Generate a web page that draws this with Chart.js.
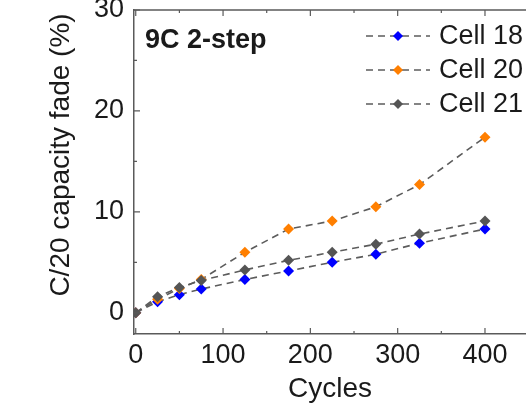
<!DOCTYPE html>
<html lang="en">
<head>
<meta charset="UTF-8">
<title>9C 2-step capacity fade</title>
<script src="https://cdn.jsdelivr.net/npm/chart.js"></script>
<style>
  html, body { margin: 0; padding: 0; background: #fff; overflow: hidden; }
  #wrap { position: absolute; left: 0; top: 0; width: 560px; height: 403px; }
</style>
</head>
<body>
<div id="wrap"><canvas id="fade" width="560" height="403"></canvas></div>
<script>
// data
const cycles = [0, 25, 50, 75, 125, 175, 225, 275, 325, 400];
const cell18 = [0, 1.1, 1.8, 2.35, 3.3, 4.15, 5.0, 5.8, 6.9, 8.3];
const cell20 = [0, 1.35, 2.4, 3.3, 6.0, 8.3, 9.1, 10.5, 12.7, 17.4];
const cell21 = [0, 1.6, 2.5, 3.2, 4.25, 5.2, 6.0, 6.8, 7.8, 9.1];
const seriesNames = ['Cell 18', 'Cell 20', 'Cell 21'];
const xTicks = [0, 100, 200, 300, 400];
const xMinor = [50, 150, 250, 350];
const yTicks = [0, 10, 20, 30];
const yMinor = [5, 15, 25];

const FONT = 'Liberation Sans, Arial, sans-serif';
const AXIS = '#5a5a5a';
const LINE = '#5c5c5c';
const DASH = [7, 5];
const colors = ['#0000ff', '#ff7f00', '#555555'];

const pts = vals => cycles.map((c, i) => ({ x: c, y: vals[i] }));

const mkSet = (name, vals, color, order) => ({
  label: name, data: pts(vals),
  borderColor: LINE, borderWidth: 1.6, borderDash: DASH,
  pointStyle: 'rectRot', pointRadius: 5.5, pointBorderWidth: 0,
  pointBackgroundColor: color, pointBorderColor: color,
  fill: false, tension: 0, order: order
});

// inward ticks, top edge, titles, legend
const decor = {
  id: 'decor',
  afterDraw(chart) {
    const { ctx, chartArea: a, scales: { x, y } } = chart;
    ctx.save();
    ctx.strokeStyle = AXIS;
    ctx.lineWidth = 1.5;
    ctx.beginPath();
    ctx.moveTo(a.left, a.top); ctx.lineTo(a.right, a.top);
    ctx.stroke();

    ctx.lineWidth = 1.2;
    ctx.beginPath();
    const xt = (v, len) => {
      const px = x.getPixelForValue(v);
      ctx.moveTo(px, a.bottom); ctx.lineTo(px, a.bottom - len);
      ctx.moveTo(px, a.top); ctx.lineTo(px, a.top + len);
    };
    const yt = (v, len) => {
      const py = y.getPixelForValue(v);
      ctx.moveTo(a.left, py); ctx.lineTo(a.left + len, py);
    };
    xTicks.forEach(v => xt(v, 6));
    xMinor.forEach(v => xt(v, 3));
    yTicks.forEach(v => yt(v, 6));
    yMinor.forEach(v => yt(v, 3));
    ctx.stroke();

    ctx.fillStyle = '#1a1a1a';
    ctx.font = 'bold 27px ' + FONT;
    ctx.textAlign = 'left';
    ctx.textBaseline = 'alphabetic';
    ctx.fillText('9C 2-step', 145, 48);

    ctx.font = '28px ' + FONT;
    ctx.textAlign = 'center';
    ctx.textBaseline = 'middle';
    ctx.fillText('Cycles', 330, 389);
    ctx.save();
    ctx.translate(61, 155);
    ctx.rotate(-Math.PI / 2);
    ctx.fillText('C/20 capacity fade (%)', 0, 0);
    ctx.restore();

    // legend
    ctx.font = '27px ' + FONT;
    chart.data.datasets.forEach((ds, i) => {
      const yy = 36 + i * 34;
      ctx.strokeStyle = LINE;
      ctx.lineWidth = 1.6;
      ctx.setLineDash(DASH);
      ctx.beginPath();
      ctx.moveTo(366, yy); ctx.lineTo(430, yy);
      ctx.stroke();
      ctx.setLineDash([]);
      ctx.fillStyle = ds.pointBackgroundColor;
      ctx.beginPath();
      ctx.moveTo(398, yy - 5); ctx.lineTo(403, yy); ctx.lineTo(398, yy + 5); ctx.lineTo(393, yy);
      ctx.closePath(); ctx.fill();
      ctx.fillStyle = '#1a1a1a';
      ctx.textAlign = 'left';
      ctx.fillText(ds.label, 439, yy + 1);
    });
    ctx.restore();
  }
};

new Chart(document.getElementById('fade'), {
  type: 'line',
  data: {
    datasets: [
      mkSet(seriesNames[0], cell18, colors[0], 2),
      mkSet(seriesNames[1], cell20, colors[1], 1),
      mkSet(seriesNames[2], cell21, colors[2], 0)
    ]
  },
  options: {
    responsive: false,
    animation: false,
    layout: { padding: { top: 10, right: 27, left: 0, bottom: 0 } },
    plugins: { legend: { display: false }, tooltip: { enabled: false } },
    scales: {
      x: {
        type: 'linear', min: -2, max: 455,
        afterBuildTicks: s => { s.ticks = xTicks.map(v => ({ value: v })); },
        afterFit: s => { s.height = 69; s.paddingLeft = 0; s.paddingRight = 0; },
        grid: { display: false, drawTicks: false },
        border: { display: true, color: AXIS, width: 1.5 },
        ticks: { color: '#1a1a1a', font: { family: FONT, size: 27 }, padding: 5, maxRotation: 0 }
      },
      y: {
        type: 'linear', min: -2.1, max: 30,
        afterBuildTicks: s => { s.ticks = yTicks.map(v => ({ value: v })); },
        afterFit: s => { s.width = 134; s.paddingTop = 0; s.paddingBottom = 0; },
        grid: { display: false, drawTicks: false },
        border: { display: true, color: AXIS, width: 1.5 },
        ticks: { color: '#1a1a1a', font: { family: FONT, size: 27 }, padding: 10 }
      }
    }
  },
  plugins: [decor]
});
</script>
</body>
</html>
